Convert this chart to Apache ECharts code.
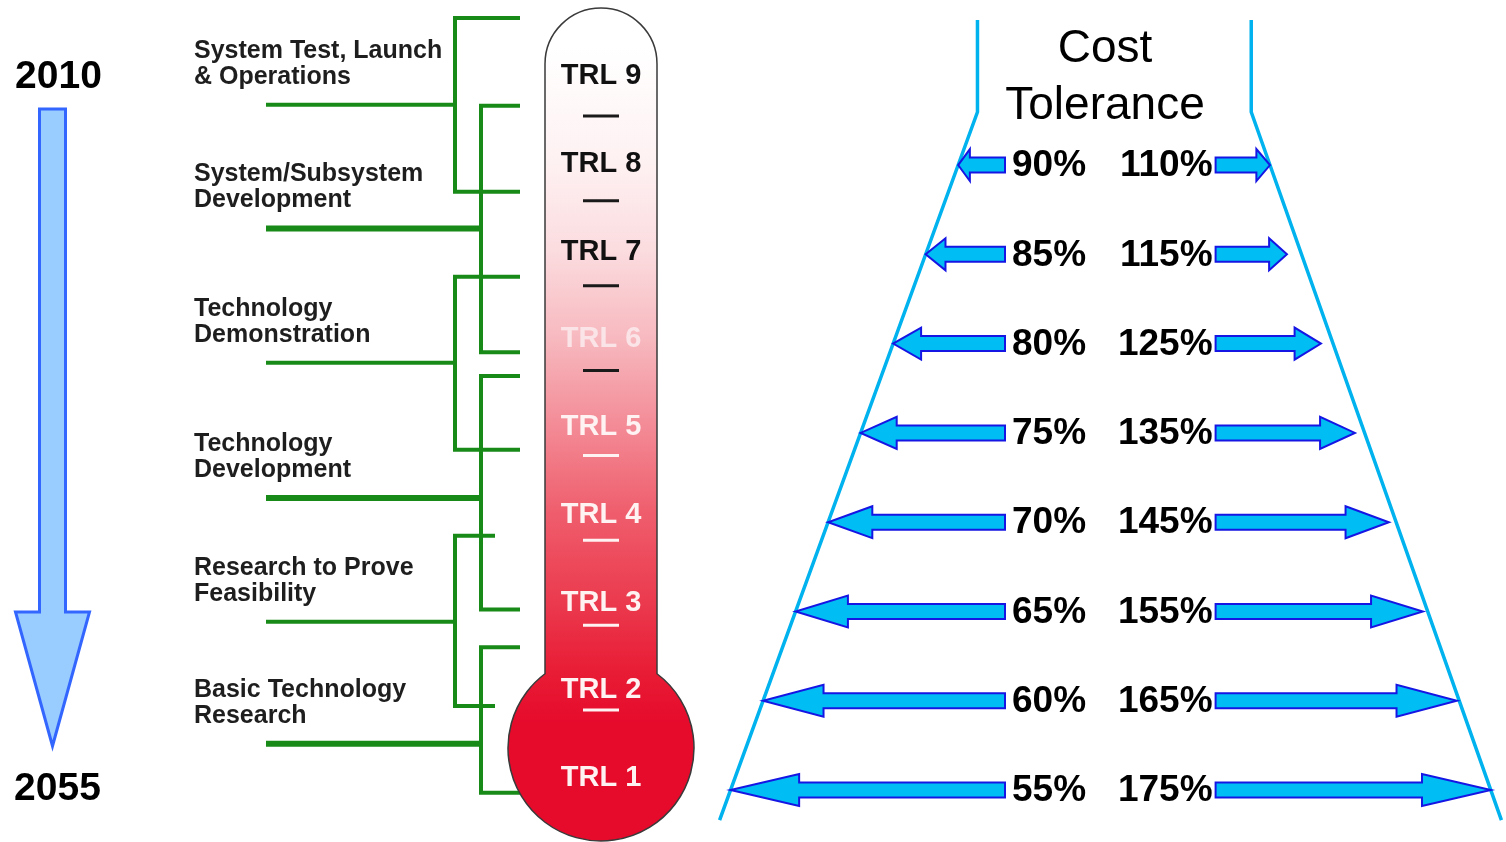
<!DOCTYPE html>
<html>
<head>
<meta charset="utf-8">
<title>TRL and cost tolerance</title>
<script src="https://cdn.jsdelivr.net/npm/echarts@6/dist/echarts.min.js"></script>
<style>
  html, body { margin: 0; padding: 0; background: #fff; }
  #chart { width: 1506px; height: 842px; }
</style>
</head>
<body>
<div id="chart"></div>
<script>
// time line
var years = [2010, 2055];

// thermometer
var trlLevels = [1, 2, 3, 4, 5, 6, 7, 8, 9];
var trlDashes = [8.5, 7.5, 6.5, 5.5, 4.5, 3.5, 2.5, 1.5];

// development phases, extents read on the TRL scale
var phaseNames = [
  'System Test, Launch\n& Operations',
  'System/Subsystem\nDevelopment',
  'Technology\nDemonstration',
  'Technology\nDevelopment',
  'Research to Prove\nFeasibility',
  'Basic Technology\nResearch'
];
var phaseTop = [9.65, 8.65, 6.70, 5.57, 3.75, 2.48];
var phaseBottom = [7.67, 5.84, 4.73, 2.91, 1.81, 0.82];
var phaseLink = [8.66, 7.25, 5.72, 4.18, 2.77, 1.38];

// cost tolerance (%)
var lowTolerance = [90, 85, 80, 75, 70, 65, 60, 55];
var highTolerance = [110, 115, 125, 135, 145, 155, 165, 175];

var FONT = '"Liberation Sans", Arial, Helvetica, sans-serif';
var GREEN = '#188A18';
var CYAN = '#00B2EE';
var ARROW_FILL = '#00BDF4';
var ARROW_LINE = '#1616E4';

function label(x, y, text, font, fill, align) {
  return {
    type: 'text', x: x, y: y,
    style: {
      text: text, font: font, fill: fill,
      align: align, textAlign: align,
      verticalAlign: 'middle', textVerticalAlign: 'middle'
    }
  };
}

function funnelWall(params, api) {
  var a = api.coord([api.value(0), api.value(1)]);
  var b = api.coord([api.value(2), api.value(3)]);
  var k = (b[0] - a[0]) / (b[1] - a[1]);
  var ys = a[1] - 53, ye = b[1] + 30;
  var xs = a[0] + k * (ys - a[1]), xe = a[0] + k * (ye - a[1]);
  return {
    type: 'polyline',
    shape: { points: [[xs, 20], [xs, ys], [xe, ye]] },
    style: { fill: null, stroke: CYAN, lineWidth: 3.5 }
  };
}

var chart = echarts.init(document.getElementById('chart'));

chart.setOption({
  backgroundColor: '#fff',
  animation: false,
  title: {
    text: 'Cost\nTolerance',
    left: 1105, top: 21, textAlign: 'center', padding: 0,
    textStyle: { fontSize: 46, fontWeight: 'normal', lineHeight: 57, color: '#000', fontFamily: FONT }
  },
  grid: [
    { left: 14, top: 109, width: 77, height: 639 },          // years
    { left: 507, top: 75, width: 188, height: 702 },          // TRL
    { left: 507, top: 116, width: 188, height: 594 },         // TRL dashes
    { left: 698, top: 120.4, width: 307, height: 714.3 },     // low tolerance
    { left: 1215.6, top: 120.4, width: 288.8, height: 714.3 } // high tolerance
  ],
  xAxis: [
    { gridIndex: 0, type: 'value', min: -1, max: 1, show: false },
    { gridIndex: 1, type: 'value', min: -1, max: 1, show: false },
    { gridIndex: 2, type: 'value', min: -1, max: 1, show: false },
    { gridIndex: 3, type: 'value', min: 50, max: 97.2, show: false },
    { gridIndex: 4, type: 'value', min: 94, max: 179, show: false }
  ],
  yAxis: [
    { gridIndex: 0, type: 'value', min: 2010, max: 2055, inverse: true, show: false },
    { gridIndex: 1, type: 'value', min: 1, max: 9, show: false },
    { gridIndex: 2, type: 'value', min: 1.5, max: 8.5, show: false },
    { gridIndex: 3, type: 'value', min: -0.5, max: 7.5, inverse: true, show: false },
    { gridIndex: 4, type: 'value', min: -0.5, max: 7.5, inverse: true, show: false }
  ],
  series: [
    {
      // time arrow
      type: 'custom', xAxisIndex: 0, yAxisIndex: 0, clip: false, z: 2,
      data: [[0, years[0], years[1]]],
      encode: { x: 0, y: [1, 2] },
      renderItem: function (params, api) {
        var cs = params.coordSys;
        var top = api.coord([api.value(0), api.value(1)]);
        var tip = api.coord([api.value(0), api.value(2)]);
        var cx = top[0];
        var shaft = 13, half = cs.width / 2 - 1.5;
        var neck = tip[1] - 136;
        var yf = 'bold 39px ' + FONT;
        return {
          type: 'group',
          children: [
            {
              type: 'polygon',
              shape: { points: [[cx - shaft, top[1]], [cx + shaft, top[1]], [cx + shaft, neck], [cx + half, neck], [cx, tip[1] - 2], [cx - half, neck], [cx - shaft, neck]] },
              style: { fill: '#99CCFF', stroke: '#3366FF', lineWidth: 3, lineJoin: 'miter' }
            },
            label(cx + 6, top[1] - 32, String(api.value(1)), yf, '#000', 'center'),
            label(cx + 5, tip[1] + 41, String(api.value(2)), yf, '#000', 'center')
          ]
        };
      }
    },
    {
      // phase brackets
      type: 'custom', xAxisIndex: 1, yAxisIndex: 1, clip: false, z: 1,
      data: phaseTop.map(function (t, i) { return [0, t, phaseBottom[i], phaseLink[i]]; }),
      encode: { x: 0, y: [1, 2, 3] },
      renderItem: function (params, api) {
        var i = params.dataIndex;
        var x0 = params.coordSys.x;
        var yTop = api.coord([0, api.value(1)])[1];
        var yBot = api.coord([0, api.value(2)])[1];
        var yLink = api.coord([0, api.value(3)])[1];
        var colX = i % 2 ? x0 - 26 : x0 - 52;
        var stubEnd = i === 4 ? x0 - 12 : x0 + 13;
        return {
          type: 'group',
          children: [
            {
              type: 'polyline',
              shape: { points: [[stubEnd, yTop], [colX, yTop], [colX, yBot], [stubEnd, yBot]] },
              style: { fill: null, stroke: GREEN, lineWidth: 4, lineJoin: 'miter' }
            },
            {
              type: 'line',
              shape: { x1: x0 - 241, y1: yLink, x2: colX, y2: yLink },
              style: { stroke: GREEN, lineWidth: i % 2 ? 6 : 4 }
            },
            {
              type: 'text', x: x0 - 313, y: yLink - 41,
              style: {
                text: phaseNames[i], font: 'bold 25px ' + FONT, fill: '#1e1e1e', lineHeight: 26,
                align: 'left', textAlign: 'left', verticalAlign: 'middle', textVerticalAlign: 'middle'
              }
            }
          ]
        };
      }
    },
    {
      // thermometer body
      type: 'custom', xAxisIndex: 1, yAxisIndex: 1, clip: false, z: 2,
      data: [[0, trlLevels[0], trlLevels[trlLevels.length - 1]]],
      encode: { x: 0, y: [1, 2] },
      renderItem: function (params, api) {
        var cs = params.coordSys;
        var cx = cs.x + cs.width / 2;
        var yHigh = api.coord([0, api.value(2)])[1];
        var yLow = api.coord([0, api.value(1)])[1];
        var tubeHalf = 56, bulbR = 93;
        var capY = yHigh - 11;
        var bulbY = yLow - 29;
        var joinY = bulbY - Math.sqrt(bulbR * bulbR - tubeHalf * tubeHalf);
        var d = 'M' + (cx - tubeHalf) + ' ' + joinY +
          ' L' + (cx - tubeHalf) + ' ' + capY +
          ' A' + tubeHalf + ' ' + tubeHalf + ' 0 0 1 ' + (cx + tubeHalf) + ' ' + capY +
          ' L' + (cx + tubeHalf) + ' ' + joinY +
          ' A' + bulbR + ' ' + bulbR + ' 0 1 1 ' + (cx - tubeHalf) + ' ' + joinY + ' Z';
        var boxTop = capY - tubeHalf, boxBottom = bulbY + bulbR;
        var shades = [[9.3, '#FFFFFF'], [8, '#FEF1F2'], [7, '#FBDCDF'], [6, '#F7B9BF'], [5, '#F38B96'],
          [4, '#EF5D6C'], [3, '#EB3A4E'], [2.2, '#E81C35'], [1.6, '#E60A2B']];
        var stops = shades.map(function (s) {
          var off = (api.coord([0, s[0]])[1] - boxTop) / (boxBottom - boxTop);
          return { offset: Math.max(0, Math.min(1, off)), color: s[1] };
        });
        return {
          type: 'path',
          shape: { pathData: d },
          style: { fill: new echarts.graphic.LinearGradient(0, 0, 0, 1, stops), stroke: '#3a3a3a', lineWidth: 1.5 }
        };
      }
    },
    {
      // TRL labels
      type: 'custom', xAxisIndex: 1, yAxisIndex: 1, clip: false, z: 3,
      data: trlLevels.map(function (l) { return [0, l]; }),
      encode: { x: 0, y: 1 },
      renderItem: function (params, api) {
        var p = api.coord([api.value(0), api.value(1)]);
        var lvl = api.value(1);
        var col = lvl >= 7 ? '#111' : (lvl === 6 ? '#FBE4E7' : '#FFF2F2');
        return label(p[0], p[1] + 1, 'TRL ' + lvl, 'bold 29px ' + FONT, col, 'center');
      }
    },
    {
      // TRL dashes
      type: 'custom', xAxisIndex: 2, yAxisIndex: 2, clip: false, z: 3,
      data: trlDashes.map(function (l) { return [0, l]; }),
      encode: { x: 0, y: 1 },
      renderItem: function (params, api) {
        var p = api.coord([api.value(0), api.value(1)]);
        return {
          type: 'line',
          shape: { x1: p[0] - 18, y1: p[1], x2: p[0] + 18, y2: p[1] },
          style: { stroke: api.value(1) > 5 ? '#1a1a1a' : '#FFF2F2', lineWidth: 3 }
        };
      }
    },
    {
      // left funnel wall
      type: 'custom', xAxisIndex: 3, yAxisIndex: 3, clip: false, z: 1,
      data: [[lowTolerance[0], 0, lowTolerance[lowTolerance.length - 1], lowTolerance.length - 1]],
      encode: { x: [0, 2], y: [1, 3] },
      renderItem: funnelWall
    },
    {
      // right funnel wall
      type: 'custom', xAxisIndex: 4, yAxisIndex: 4, clip: false, z: 1,
      data: [[highTolerance[0], 0, highTolerance[highTolerance.length - 1], highTolerance.length - 1]],
      encode: { x: [0, 2], y: [1, 3] },
      renderItem: funnelWall
    },
    {
      // low tolerance arrows
      type: 'custom', xAxisIndex: 3, yAxisIndex: 3, clip: false, z: 2,
      data: lowTolerance.map(function (p, i) { return [p, i]; }),
      encode: { x: 0, y: 1 },
      renderItem: function (params, api) {
        var cs = params.coordSys;
        var tip = api.coord([api.value(0), api.value(1)]);
        var base = cs.x + cs.width;
        var y = tip[1], t = tip[0];
        var h = (base - t) * 0.25;
        return {
          type: 'group',
          children: [
            {
              type: 'polygon',
              shape: { points: [[base, y - 7.5], [t + h, y - 7.5], [t + h, y - 16], [t, y], [t + h, y + 16], [t + h, y + 7.5], [base, y + 7.5]] },
              style: { fill: ARROW_FILL, stroke: ARROW_LINE, lineWidth: 2 }
            },
            label(base + 7, y + 1, api.value(0) + '%', 'bold 37px ' + FONT, '#000', 'left')
          ]
        };
      }
    },
    {
      // high tolerance arrows
      type: 'custom', xAxisIndex: 4, yAxisIndex: 4, clip: false, z: 2,
      data: highTolerance.map(function (p, i) { return [p, i]; }),
      encode: { x: 0, y: 1 },
      renderItem: function (params, api) {
        var cs = params.coordSys;
        var tip = api.coord([api.value(0), api.value(1)]);
        var base = cs.x;
        var y = tip[1], t = tip[0];
        var h = (t - base) * 0.25;
        return {
          type: 'group',
          children: [
            {
              type: 'polygon',
              shape: { points: [[base, y - 7.5], [t - h, y - 7.5], [t - h, y - 16], [t, y], [t - h, y + 16], [t - h, y + 7.5], [base, y + 7.5]] },
              style: { fill: ARROW_FILL, stroke: ARROW_LINE, lineWidth: 2 }
            },
            label(base - 3, y + 1, api.value(0) + '%', 'bold 37px ' + FONT, '#000', 'right')
          ]
        };
      }
    }
  ]
});
</script>
</body>
</html>
